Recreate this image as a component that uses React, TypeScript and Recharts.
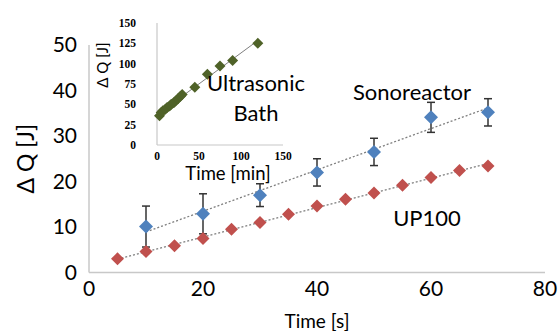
import React from 'react';
import {
  ScatterChart, Scatter, XAxis, YAxis, ErrorBar, ReferenceLine, Label,
} from 'recharts';

// ---- data ----
const upTime = [5, 10, 15, 20, 25, 30, 35, 40, 45, 50, 55, 60, 65, 70];
const upQ = [3.0, 4.6, 5.9, 7.5, 9.5, 11.0, 12.8, 14.6, 16.1, 17.5, 19.2, 20.9, 22.4, 23.4];

const sonoTime = [10, 20, 30, 40, 50, 60, 70];
const sonoQ = [10.1, 12.9, 17.0, 22.0, 26.5, 34.1, 35.2];
const sonoErr = [4.5, 4.4, 2.5, 3.0, 3.0, 3.3, 3.0];

const bathTime = [3, 5, 7, 10, 12, 15, 17, 20, 22, 25, 28, 30, 45, 60, 75, 90, 120];
const bathQ = [36, 40, 42, 44, 46, 48, 50, 52, 54, 57, 60, 62, 71, 87, 97, 104, 125];

const mainXTicks = [0, 20, 40, 60, 80];
const mainYTicks = [0, 10, 20, 30, 40, 50];
const insetXTicks = [0, 50, 100, 150];
const insetYTicks = [0, 25, 50, 75, 100, 125, 150];

// ---- helpers ----
const fit = (xs: number[], ys: number[]) => {
  const n = xs.length;
  const mx = xs.reduce((a, b) => a + b, 0) / n;
  const my = ys.reduce((a, b) => a + b, 0) / n;
  let sxy = 0, sxx = 0;
  for (let i = 0; i < n; i++) { sxy += (xs[i] - mx) * (ys[i] - my); sxx += (xs[i] - mx) ** 2; }
  const slope = sxy / sxx;
  const icpt = my - slope * mx;
  const x0 = Math.min(...xs), x1 = Math.max(...xs);
  return [{ x: x0, y: icpt + slope * x0 }, { x: x1, y: icpt + slope * x1 }];
};

const diamond = (r: number, fill: string) => (props: any) => {
  const { cx, cy } = props;
  if (cx == null || cy == null) return <g />;
  return <path d={`M${cx},${cy - r}L${cx + r},${cy}L${cx},${cy + r}L${cx - r},${cy}Z`} fill={fill} />;
};

const upData = upTime.map((x, i) => ({ x, y: upQ[i] }));
const sonoData = sonoTime.map((x, i) => ({ x, y: sonoQ[i], err: sonoErr[i] }));
const bathData = bathTime.map((x, i) => ({ x, y: bathQ[i] }));

const upFit = fit(upTime, upQ);
const sonoFit = fit(sonoTime, sonoQ);
const bathFit = fit(bathTime, bathQ);

const FONT = 'Lato, "Open Sans", sans-serif';
const AXIS = '#C8C8C8';
const BLUE = '#4F81BD';
const RED = '#C0504D';
const GREEN = '#4F6228';

const note = (text: string, x: number, y: number, size: number, rotate = 0) => (
  <div
    style={{
      position: 'absolute', left: x, top: y,
      transform: `translate(-50%, -50%) rotate(${rotate}deg)`,
      fontFamily: FONT, fontSize: size, lineHeight: 1, color: '#000', whiteSpace: 'nowrap',
    }}
  >
    {text}
  </div>
);

export default function App() {
  return (
    <div style={{ position: 'absolute', left: 0, top: 0, width: 560, height: 331, background: '#fff' }}>
      <div style={{ position: 'absolute', left: 0, top: 0 }}>
        <ScatterChart width={560} height={331} margin={{ top: 45, right: 15, left: 0, bottom: 0 }}>
          <XAxis
            type="number" dataKey="x" domain={[0, 80]} ticks={mainXTicks} height={58.5}
            axisLine={{ stroke: AXIS, strokeWidth: 1.5 }} tickLine={false} tickSize={0} tickMargin={9}
            tick={{ fontFamily: FONT, fontSize: 21, fill: '#000' }} allowDataOverflow
          >
            <Label value="Time [s]" position="insideBottom" offset={3}
              style={{ fontFamily: FONT, fontSize: 19, fill: '#000' }} />
          </XAxis>
          <YAxis
            type="number" dataKey="y" domain={[0, 50]} ticks={mainYTicks} width={89}
            axisLine={{ stroke: AXIS, strokeWidth: 1.5 }} tickLine={false} tickSize={0} tickMargin={12}
            tick={{ fontFamily: FONT, fontSize: 21, fill: '#000' }} allowDataOverflow
          >
            <Label value="Δ Q [J]" angle={-90} position="insideLeft" offset={26}
              style={{ fontFamily: FONT, fontSize: 23, fill: '#000', textAnchor: 'middle' }} />
          </YAxis>
          <ReferenceLine segment={sonoFit} stroke="#7F7F7F" strokeWidth={1.3} strokeDasharray="2 2" ifOverflow="visible" />
          <ReferenceLine segment={upFit} stroke="#7F7F7F" strokeWidth={1.3} strokeDasharray="2 2" ifOverflow="visible" />
          <Scatter data={sonoData} dataKey="y" shape={diamond(7, BLUE)} isAnimationActive={false}>
            <ErrorBar dataKey="err" direction="y" width={4} stroke="#333" strokeWidth={1.5} />
          </Scatter>
          <Scatter data={upData} dataKey="y" shape={diamond(6.5, RED)} isAnimationActive={false} />
        </ScatterChart>
      </div>

      <div style={{ position: 'absolute', left: 85, top: 10 }}>
        <ScatterChart width={215} height={175} margin={{ top: 13, right: 17, left: 0, bottom: 0 }}>
          <XAxis
            type="number" dataKey="x" domain={[0, 150]} ticks={insetXTicks} height={40}
            axisLine={{ stroke: AXIS, strokeWidth: 1.2 }} tickLine={false} tickSize={0} tickMargin={7}
            tick={{ fontFamily: '"Liberation Serif", serif', fontWeight: 'bold', fontSize: 11.5, fill: '#000' }}
          >
            <Label value="Time [min]" position="insideBottom" offset={5} dx={8}
              style={{ fontFamily: FONT, fontSize: 18.5, fill: '#000' }} />
          </XAxis>
          <YAxis
            type="number" dataKey="y" domain={[0, 150]} ticks={insetYTicks} width={72}
            axisLine={{ stroke: AXIS, strokeWidth: 1.2 }} tickLine={false} tickSize={0} tickMargin={21}
            tick={{ fontFamily: '"Liberation Serif", serif', fontWeight: 'bold', fontSize: 11.5, fill: '#000' }}
          />
          <ReferenceLine segment={bathFit} stroke="#7F7F7F" strokeWidth={1} ifOverflow="visible" />
          <Scatter data={bathData} dataKey="y" shape={diamond(5.5, GREEN)} isAnimationActive={false} />
        </ScatterChart>
      </div>

      {note('Δ Q [J]', 102, 65, 15, -90)}
      {note('Ultrasonic', 256, 83, 22)}
      {note('Bath', 256, 113, 22)}
      {note('Sonoreactor', 412, 92, 22)}
      {note('UP100', 427, 218, 22)}
    </div>
  );
}
